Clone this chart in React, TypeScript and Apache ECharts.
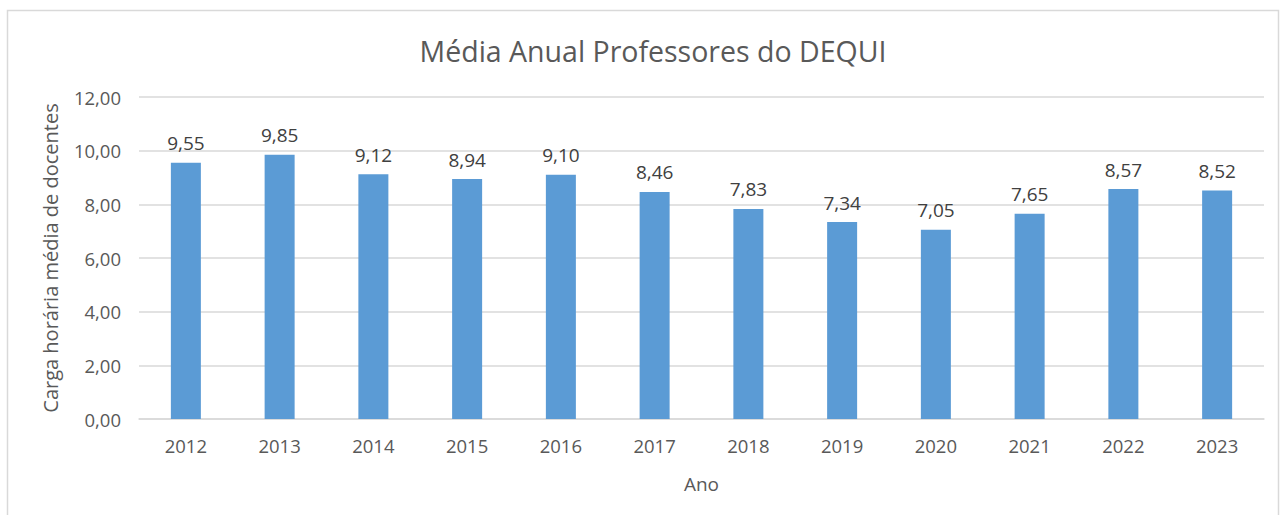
import React, { useEffect, useRef } from "react";
import * as echarts from "echarts";

const categories = ["2012", "2013", "2014", "2015", "2016", "2017", "2018", "2019", "2020", "2021", "2022", "2023"];
const values = [9.55, 9.85, 9.12, 8.94, 9.1, 8.46, 7.83, 7.34, 7.05, 7.65, 8.57, 8.52];
const titleText = "Média Anual Professores do DEQUI";
const yName = "Carga horária média de docentes";
const xName = "Ano";

const fmt = (v: number) => v.toFixed(2).replace(".", ",");
const FONT = "'Open Sans', sans-serif";
const TXT = "#595959";

export default function App() {
  const ref = useRef<HTMLDivElement>(null);
  useEffect(() => {
    const chart = echarts.init(ref.current!, null, { renderer: "svg" });
    chart.setOption({
      animation: false,
      backgroundColor: "#ffffff",
      title: {
        text: titleText,
        left: 648,
        textAlign: "center",
        top: 31,
        textStyle: { fontFamily: FONT, fontSize: 28.5, fontWeight: "normal", color: TXT },
      },
      graphic: [
        {
          type: "rect",
          shape: { x: 7.5, y: 10.5, width: 1271, height: 520 },
          style: { fill: "none", stroke: "#d9d9d9", lineWidth: 1.5 },
          silent: true,
        },
      ],
      grid: { left: 139, right: 23, top: 97, bottom: 96, containLabel: false },
      xAxis: {
        type: "category",
        data: categories,
        name: xName,
        nameLocation: "middle",
        nameGap: 55,
        nameTextStyle: { fontFamily: FONT, fontSize: 19, color: TXT },
        axisLine: { lineStyle: { color: "#d9d9d9", width: 1.5 } },
        axisTick: { show: false },
        axisLabel: { fontFamily: FONT, fontSize: 18.5, color: TXT, margin: 17 },
      },
      yAxis: {
        type: "value",
        min: 0,
        max: 12,
        interval: 2,
        name: yName,
        nameLocation: "middle",
        nameGap: 79,
        nameTextStyle: { fontFamily: FONT, fontSize: 20, color: TXT },
        axisLine: { show: false },
        axisTick: { show: false },
        splitLine: { lineStyle: { color: "#d9d9d9", width: 1.5 } },
        axisLabel: { fontFamily: FONT, fontSize: 18.5, color: TXT, margin: 18, formatter: (v: number) => fmt(v) },
      },
      series: [
        {
          type: "bar",
          data: values,
          barWidth: 30,
          itemStyle: { color: "#5b9bd5" },
          label: {
            show: true,
            position: "top",
            distance: 10,
            fontFamily: FONT,
            fontSize: 19,
            color: "#404040",
            formatter: (p: any) => fmt(p.value),
          },
        },
      ],
    });
    return () => chart.dispose();
  }, []);
  return (
    <div
      ref={ref}
      style={{ position: "absolute", left: 0, top: 0, width: 1287, height: 515 }}
    />
  );
}
